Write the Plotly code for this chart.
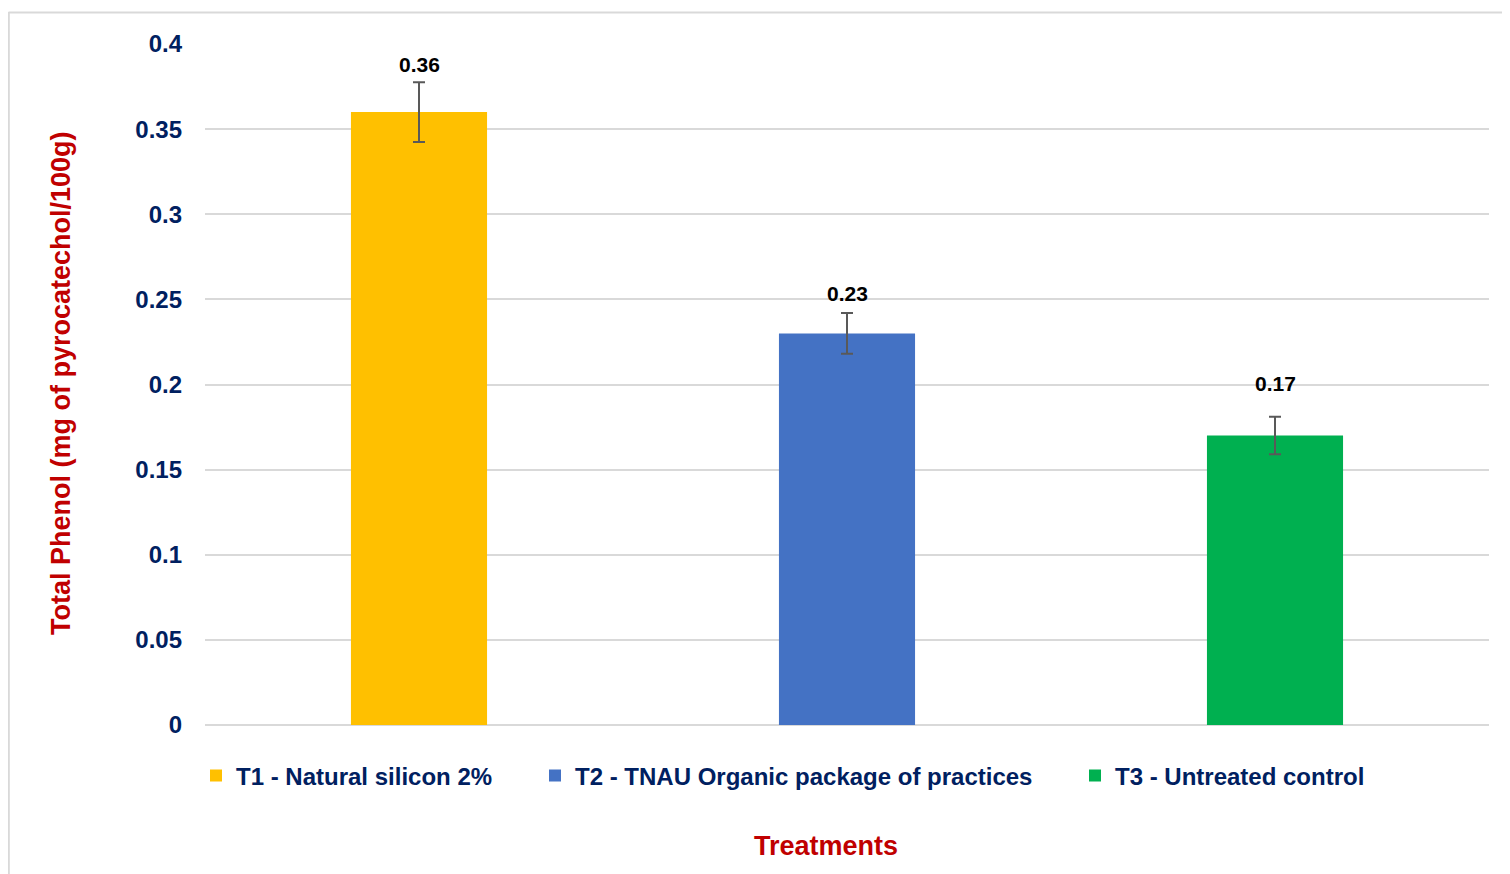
import plotly.graph_objects as go

categories = ["T1 - Natural silicon 2%", "T2 - TNAU Organic package of practices", "T3 - Untreated control"]
values = [0.36, 0.23, 0.17]
errors = [0.0175, 0.012, 0.011]
colors = ["#FFC000", "#4472C4", "#00B050"]
labels = ["0.36", "0.23", "0.17"]
y_ticks = [0, 0.05, 0.1, 0.15, 0.2, 0.25, 0.3, 0.35, 0.4]
y_ticktext = ["0", "0.05", "0.1", "0.15", "0.2", "0.25", "0.3", "0.35", "0.4"]

FONT = "Liberation Sans, Arial, sans-serif"
OFF = 8  # page body margin
W, H = 1510 - OFF, 874 - OFF
ML, MR, MT, MB = 205 - OFF, 21, 44 - OFF, 149
PW = W - ML - MR
PH = H - MT - MB

def px_x(s):
    return (s - OFF - ML) / PW

def px_y(s):
    return (H - MB - (s - OFF)) / PH

label_shift = [4, 6, 20]

fig = go.Figure()
legend_names = ["legend", "legend2", "legend3"]
legend_px = [196, 535, 1075]
for i, cat in enumerate(categories):
    fig.add_trace(go.Bar(
        x=[cat], y=[values[i]], name=cat, width=0.318,
        marker=dict(color=colors[i], line=dict(width=0)),
        error_y=dict(type="data", array=[errors[i]], color="#595959", thickness=2, width=6),
        legend=legend_names[i], hoverinfo="skip",
    ))
    fig.add_annotation(
        x=cat, y=values[i] + errors[i], text="<b>" + labels[i] + "</b>",
        showarrow=False, yanchor="bottom", yshift=label_shift[i],
        font=dict(family=FONT, size=21, color="#000000"),
    )

leg_common = dict(orientation="h", yanchor="middle", xanchor="left",
                  font=dict(family=FONT, size=24, color="#002060", weight="bold"),
                  bgcolor="rgba(0,0,0,0)", borderwidth=0)
layout_legs = {}
for i, ln in enumerate(legend_names):
    layout_legs[ln] = dict(x=px_x(legend_px[i]), y=px_y(776), **leg_common)

fig.update_layout(
    width=W, height=H,
    margin=dict(l=ML, r=MR, t=MT, b=MB, autoexpand=False),
    plot_bgcolor="white", paper_bgcolor="white",
    barmode="overlay",
    showlegend=True,
    font=dict(family=FONT),
    xaxis=dict(showticklabels=False, showgrid=False, zeroline=False, showline=False,
               categoryorder="array", categoryarray=categories, range=[-0.5, 2.5]),
    yaxis=dict(range=[0, 0.4], tickvals=y_ticks, ticktext=y_ticktext,
               showgrid=True, gridcolor="#D9D9D9", gridwidth=2,
               zeroline=True, zerolinecolor="#D9D9D9", zerolinewidth=2,
               showline=False, ticks="", ticklabelstandoff=22,
               tickfont=dict(family=FONT, size=24, color="#002060", weight="bold")),
    **layout_legs,
)

fig.add_annotation(
    xref="paper", yref="paper", x=px_x(61), y=px_y(383),
    text="<b>Total Phenol (mg of pyrocatechol/100g)</b>", textangle=-90,
    showarrow=False, xanchor="center", yanchor="middle",
    font=dict(family=FONT, size=27, color="#C00000"),
)
fig.add_annotation(
    xref="paper", yref="paper", x=px_x(826), y=px_y(846),
    text="<b>Treatments</b>",
    showarrow=False, xanchor="center", yanchor="middle",
    font=dict(family=FONT, size=27, color="#C00000"),
)

# outer chart border (top and left visible)
fig.add_shape(type="line", xref="paper", yref="paper",
              x0=px_x(8.5), x1=px_x(1520), y0=px_y(12.5), y1=px_y(12.5),
              line=dict(color="#D9D9D9", width=2))
fig.add_shape(type="line", xref="paper", yref="paper",
              x0=px_x(8.8), x1=px_x(8.8), y0=px_y(12), y1=px_y(880),
              line=dict(color="#D9D9D9", width=2))

fig.write_html("out.html")
